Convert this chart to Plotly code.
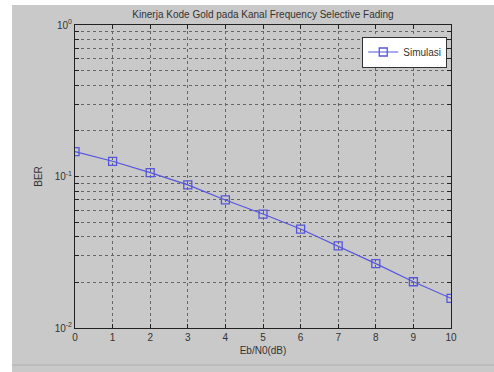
import plotly.graph_objects as go

# Eb/N0 sweep and simulated bit error rate
ebn0_db = [0, 1, 2, 3, 4, 5, 6, 7, 8, 9, 10]
ber_sim = [0.146, 0.126, 0.106, 0.088, 0.070, 0.0565, 0.0450, 0.0348, 0.0266, 0.0202, 0.0157]

x_ticks = list(range(0, 11))
decades = [1e-2, 1e-1, 1e0]
decade_labels = ["10<sup>-2</sup>", "10<sup>-1</sup>", "10<sup>0</sup>"]

# log grid: every integer multiple inside each decade, labels only on decades
y_ticks, y_text = [], []
for d, lab in zip(decades[:-1], decade_labels[:-1]):
    for m in range(1, 10):
        y_ticks.append(d * m)
        y_text.append(lab if m == 1 else "")
y_ticks.append(decades[-1])
y_text.append(decade_labels[-1])

blue = "#5656dc"
font = "Liberation Sans, Arial, sans-serif"

fig = go.Figure()
fig.add_trace(go.Scatter(
    x=ebn0_db, y=ber_sim, mode="lines+markers", name="Simulasi",
    line=dict(color=blue, width=1.2),
    marker=dict(symbol="square-open", size=8, color=blue, line=dict(width=1.3)),
))

axis_common = dict(
    showline=True, linecolor="#222", linewidth=1, mirror="ticks",
    ticks="inside", ticklen=4, tickcolor="#222",
    showgrid=True, gridcolor="#666", griddash="dot", gridwidth=1,
    zeroline=False, tickfont=dict(size=10, color="#333", family=font),
)

fig.update_xaxes(
    range=[0, 10], tickvals=x_ticks, ticktext=[str(t) for t in x_ticks],
    title=dict(text="Eb/N0(dB)", font=dict(size=10, color="#333", family=font), standoff=4),
    **axis_common,
)
fig.update_yaxes(
    type="log", range=[-2, 0], tickvals=y_ticks, ticktext=y_text,
    title=dict(text="BER", font=dict(size=10, color="#333", family=font), standoff=10),
    **axis_common,
)

fig.update_layout(
    width=494, height=372,
    margin=dict(l=75, r=43, t=25, b=44),
    paper_bgcolor="white", plot_bgcolor="white",
    title=dict(text="Kinerja Kode Gold pada Kanal Frequency Selective Fading",
               x=(75 + 451) / 2 / 494, xanchor="center", y=1 - 14 / 372, yanchor="middle",
               font=dict(size=10, color="#333", family=font)),
    legend=dict(x=0.99, y=0.962, xanchor="right", yanchor="top",
                bgcolor="white", bordercolor="#333", borderwidth=1,
                itemwidth=30, tracegroupgap=0,
                font=dict(size=10, color="#333", family=font)),
    showlegend=True,
    shapes=[
        # grey figure window behind the axes
        dict(type="rect", xref="paper", yref="paper", layer="below",
             x0=-(75 - 12) / 376, x1=1 + 43 / 376, y0=-44 / 303, y1=1 + 20 / 303,
             fillcolor="#c9c9c9", line=dict(width=0)),
        dict(type="line", xref="paper", yref="paper",
             x0=-(75 - 12) / 376, x1=1 + 43 / 376, y0=-37 / 303, y1=-37 / 303,
             line=dict(color="#b0b0b0", width=1)),
    ],
)

fig.write_html("out.html")
